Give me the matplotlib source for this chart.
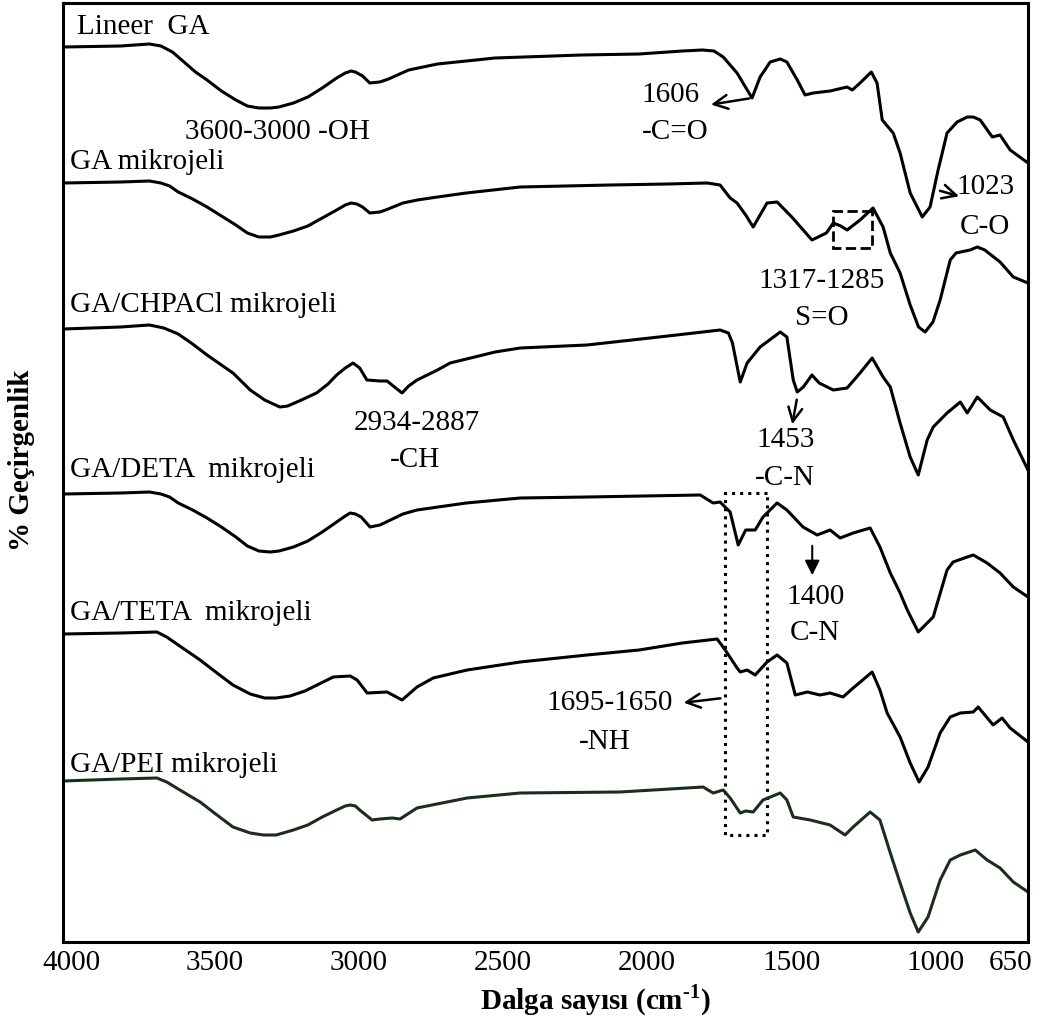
import matplotlib
matplotlib.use("Agg")
import matplotlib.pyplot as plt
import matplotlib.transforms as mtransforms
from matplotlib.patches import Rectangle

plt.rcParams['font.family'] = ['Liberation Serif', 'DejaVu Serif']
plt.rcParams['mathtext.fontset'] = 'custom'
plt.rcParams['mathtext.rm'] = 'Liberation Serif'
plt.rcParams['mathtext.bf'] = 'Liberation Serif:bold'

# FTIR spectra (wavenumber cm-1, offset level; larger = lower on page)
wn_lineer = [4000, 3800, 3700, 3660, 3620, 3580, 3540, 3500, 3450, 3400, 3360, 3320, 3280, 3250,
             3200, 3150, 3100, 3050, 3020, 3000, 2985, 2960, 2935, 2900, 2870, 2800, 2750, 2700,
             2600, 2500, 2200, 2000, 1850, 1780, 1740, 1708, 1660, 1608, 1580, 1545, 1510, 1487,
             1451, 1424, 1396, 1337, 1278, 1260, 1233, 1194, 1174, 1156, 1118, 1094, 1059, 1017,
             990, 962, 931, 896, 861, 840, 816, 774, 747, 712, 650]
t_lineer = [47, 46, 44, 46, 52, 62, 72, 80, 91, 100, 106, 108, 108, 107,
            103, 97, 88, 78, 73, 71, 72, 76, 83, 82, 79, 70, 67, 64,
            61, 58, 55, 54, 51, 50, 51, 57, 73, 98, 77, 62, 59, 62,
            80, 95, 93, 91, 87, 90, 83, 72, 83, 120, 133, 153, 193, 217,
            207, 170, 133, 122, 117, 117, 120, 137, 135, 150, 163]

wn_ga = [4000, 3800, 3700, 3660, 3630, 3600, 3550, 3500, 3450, 3400, 3360, 3320, 3280, 3250,
         3200, 3150, 3100, 3050, 3020, 3000, 2980, 2960, 2935, 2900, 2880, 2820, 2770, 2700,
         2600, 2413, 2100, 1900, 1764, 1719, 1684, 1660, 1630, 1604, 1556, 1521, 1470, 1400,
         1350, 1326, 1300, 1278, 1233, 1188, 1153, 1128, 1094, 1059, 1030, 1007, 980, 955,
         920, 900, 851, 826, 800, 747, 701, 650]
t_ga = [183, 182, 181, 183, 186, 192, 199, 207, 216, 225, 233, 237, 237, 235,
        231, 226, 218, 210, 205, 203, 204, 207, 213, 212, 210, 203, 200, 197,
        193, 187, 185, 184, 183, 185, 198, 203, 215, 227, 203, 202, 217, 240,
        233, 223, 226, 230, 220, 208, 227, 253, 273, 305, 327, 332, 322, 300,
        260, 253, 250, 247, 250, 262, 277, 283]

wn_chpacl = [4000, 3800, 3700, 3650, 3600, 3550, 3500, 3410, 3350, 3300, 3270, 3247, 3220, 3180,
             3120, 3080, 3050, 3020, 2993, 2970, 2945, 2900, 2875, 2845, 2823, 2800, 2771, 2700,
             2656, 2500, 2413, 2181, 1900, 1719, 1690, 1676, 1649, 1625, 1580, 1510, 1487, 1465,
             1451, 1430, 1400, 1375, 1326, 1278, 1233, 1191, 1153, 1128, 1094, 1059, 1031, 1000,
             979, 931, 885, 861, 826, 781, 736, 701, 650]
t_chpacl = [329, 327, 325, 328, 334, 344, 355, 373, 390, 400, 404, 407, 406, 401,
            393, 384, 375, 368, 363, 368, 380, 381, 381, 388, 393, 386, 380, 370,
            363, 352, 348, 345, 336, 330, 333, 343, 382, 363, 347, 332, 337, 380,
            392, 387, 375, 383, 390, 388, 373, 358, 377, 387, 423, 457, 475, 440,
            427, 413, 402, 413, 397, 410, 417, 440, 470]

wn_deta = [4000, 3800, 3700, 3660, 3630, 3600, 3550, 3500, 3450, 3400, 3360, 3320, 3280, 3250,
           3200, 3150, 3100, 3050, 3020, 3003, 2985, 2965, 2934, 2900, 2885, 2820, 2771, 2600,
           2413, 2181, 1788, 1743, 1719, 1684, 1656, 1630, 1597, 1570, 1521, 1487, 1431, 1382,
           1337, 1302, 1257, 1198, 1164, 1128, 1094, 1069, 1031, 979, 931, 910, 861, 840,
           792, 747, 701, 650]
t_deta = [494, 493, 492, 494, 497, 503, 510, 518, 527, 537, 546, 551, 552, 551,
          547, 541, 532, 522, 516, 513, 514, 517, 527, 525, 523, 514, 510, 503,
          498, 497, 495, 503, 502, 512, 545, 530, 530, 517, 503, 510, 527, 535,
          530, 538, 533, 528, 547, 573, 593, 610, 632, 617, 570, 562, 557, 555,
          563, 573, 587, 597]

wn_teta = [4000, 3800, 3674, 3640, 3600, 3524, 3470, 3410, 3350, 3300, 3260, 3212, 3160, 3118,
           3062, 3003, 2979, 2944, 2875, 2823, 2771, 2715, 2597, 2413, 2181, 2000, 1850, 1729,
           1701, 1660, 1649, 1625, 1597, 1556, 1521, 1487, 1458, 1416, 1372, 1337, 1292, 1257,
           1191, 1164, 1139, 1094, 1059, 1028, 997, 955, 920, 885, 840, 823, 771, 740,
           712, 650]
t_teta = [634, 633, 632, 637, 645, 660, 672, 685, 694, 698, 698, 696, 691, 685,
          677, 676, 680, 693, 692, 700, 687, 678, 670, 662, 655, 650, 643, 639,
          650, 668, 672, 670, 675, 662, 655, 663, 695, 692, 695, 693, 697, 688,
          672, 690, 713, 737, 763, 782, 767, 733, 717, 713, 712, 707, 725, 718,
          728, 742]

wn_pei = [4000, 3800, 3674, 3640, 3600, 3524, 3470, 3410, 3350, 3305, 3260, 3200, 3150, 3100,
          3050, 3020, 3003, 2985, 2970, 2927, 2900, 2857, 2830, 2771, 2597, 2413, 2066, 1778,
          1743, 1708, 1684, 1649, 1630, 1604, 1570, 1510, 1487, 1465, 1406, 1337, 1285, 1257,
          1198, 1164, 1128, 1094, 1059, 1031, 997, 955, 920, 885, 833, 792, 747, 701,
          650]
t_pei = [781, 779, 778, 782, 789, 802, 814, 827, 833, 835, 835, 830, 825, 817,
         810, 806, 805, 806, 810, 820, 819, 818, 819, 808, 798, 793, 792, 787,
         793, 790, 798, 813, 811, 812, 800, 793, 800, 817, 820, 825, 835, 827,
         812, 820, 853, 883, 913, 932, 917, 880, 860, 855, 850, 860, 868, 882,
         892]

names = ["Lineer  GA", "GA mikrojeli", "GA/CHPACl mikrojeli",
         "GA/DETA  mikrojeli", "GA/TETA  mikrojeli", "GA/PEI mikrojeli"]
name_pos = [(3951, 27), (3976, 162), (3976, 305), (3976, 470), (3976, 613), (3976, 765)]
xticks = [4000, 3500, 3000, 2500, 2000, 1500, 1000, 650]

fig = plt.figure(figsize=(10.44, 10.25), dpi=100)
ax = fig.add_axes([63 / 1044, 83 / 1025, 965 / 1044, 939 / 1025])

series = [(wn_lineer, t_lineer, 'black'), (wn_ga, t_ga, 'black'), (wn_chpacl, t_chpacl, 'black'),
          (wn_deta, t_deta, 'black'), (wn_teta, t_teta, 'black'), (wn_pei, t_pei, '#1b2e1b')]
for wn, t, c in series:
    ax.plot(wn, t, color=c, lw=2.2, solid_joinstyle='round')

ax.set_xlim(4000, 650)
ax.set_ylim(942, 3)

fs = 21
for name, (x, y) in zip(names, name_pos):
    ax.text(x, y, name, fontsize=fs, ha='left', va='center')

# band annotations
ax.text(3257, 132, "3600-3000 -OH", fontsize=fs, ha='center', va='center')
ax.text(1892, 95, "1606", fontsize=fs, ha='center', va='center')
ax.text(1875, 132, "-C=O", fontsize=fs, ha='center', va='center')
ax.annotate("", xy=(1760, 105), xytext=(1608, 98),
            arrowprops=dict(arrowstyle='->', lw=1.8, color='black', mutation_scale=25))
ax.text(799, 187, "1023", fontsize=fs, ha='center', va='center')
ax.text(799, 227, "C-O", fontsize=fs, ha='center', va='center')
ax.annotate("", xy=(880, 197), xytext=(965, 190),
            arrowprops=dict(arrowstyle='->', lw=1.8, color='black', mutation_scale=25))
ax.add_patch(Rectangle((1191, 211), 135, 37, fill=False, ls='--', lw=2, ec='black'))
ax.text(1365, 281, "1317-1285", fontsize=fs, ha='center', va='center')
ax.text(1365, 318, "S=O", fontsize=fs, ha='center', va='center')
ax.text(2771, 423, "2934-2887", fontsize=fs, ha='center', va='center')
ax.text(2778, 460, "-CH", fontsize=fs, ha='center', va='center')
ax.text(1493, 440, "1453", fontsize=fs, ha='center', va='center')
ax.text(1493, 478, "-C-N", fontsize=fs, ha='center', va='center')
ax.annotate("", xy=(1470, 427), xytext=(1451, 397),
            arrowprops=dict(arrowstyle='->', lw=1.8, color='black', mutation_scale=25))
ax.text(1389, 597, "1400", fontsize=fs, ha='center', va='center')
ax.text(1389, 633, "C-N", fontsize=fs, ha='center', va='center')
ax.annotate("", xy=(1399, 578), xytext=(1399, 543),
            arrowprops=dict(arrowstyle='-|>', lw=1.5, color='black', mutation_scale=22))
ax.add_patch(Rectangle((1556, 493), 145, 342, fill=False, ls=':', lw=2.2, ec='black'))
ax.text(2101, 703, "1695-1650", fontsize=fs, ha='center', va='center')
ax.text(2118, 742, "-NH", fontsize=fs, ha='center', va='center')
ax.annotate("", xy=(1855, 703), xytext=(1708, 698),
            arrowprops=dict(arrowstyle='->', lw=1.8, color='black', mutation_scale=25))

ax.set_xticks(xticks)
ax.set_xticklabels([str(v) for v in xticks], fontsize=fs)
ax.set_yticks([])
ax.tick_params(axis='x', length=0, pad=6)
shift = mtransforms.ScaledTranslation(8 / 100, 0, fig.dpi_scale_trans)
for lab in ax.get_xticklabels():
    lab.set_transform(lab.get_transform() + shift)
last = ax.get_xticklabels()[-1]
last.set_ha('right')
last.set_transform(last.get_transform() + mtransforms.ScaledTranslation(-4 / 100, 0, fig.dpi_scale_trans))

for sp in ax.spines.values():
    sp.set_linewidth(2.2)

fig.text(22 / 1044, (1025 - 460) / 1025, "% Geçirgenlik", rotation=90, fontsize=fs,
         fontweight='bold', ha='center', va='center')
fig.text(595 / 1044, (1025 - 1000) / 1025, r"Dalga sayısı (cm$^{\mathbf{\text{-}1}}$)", fontsize=fs,
         fontweight='bold', ha='center', va='center')

fig.savefig("out.png", dpi=100)
